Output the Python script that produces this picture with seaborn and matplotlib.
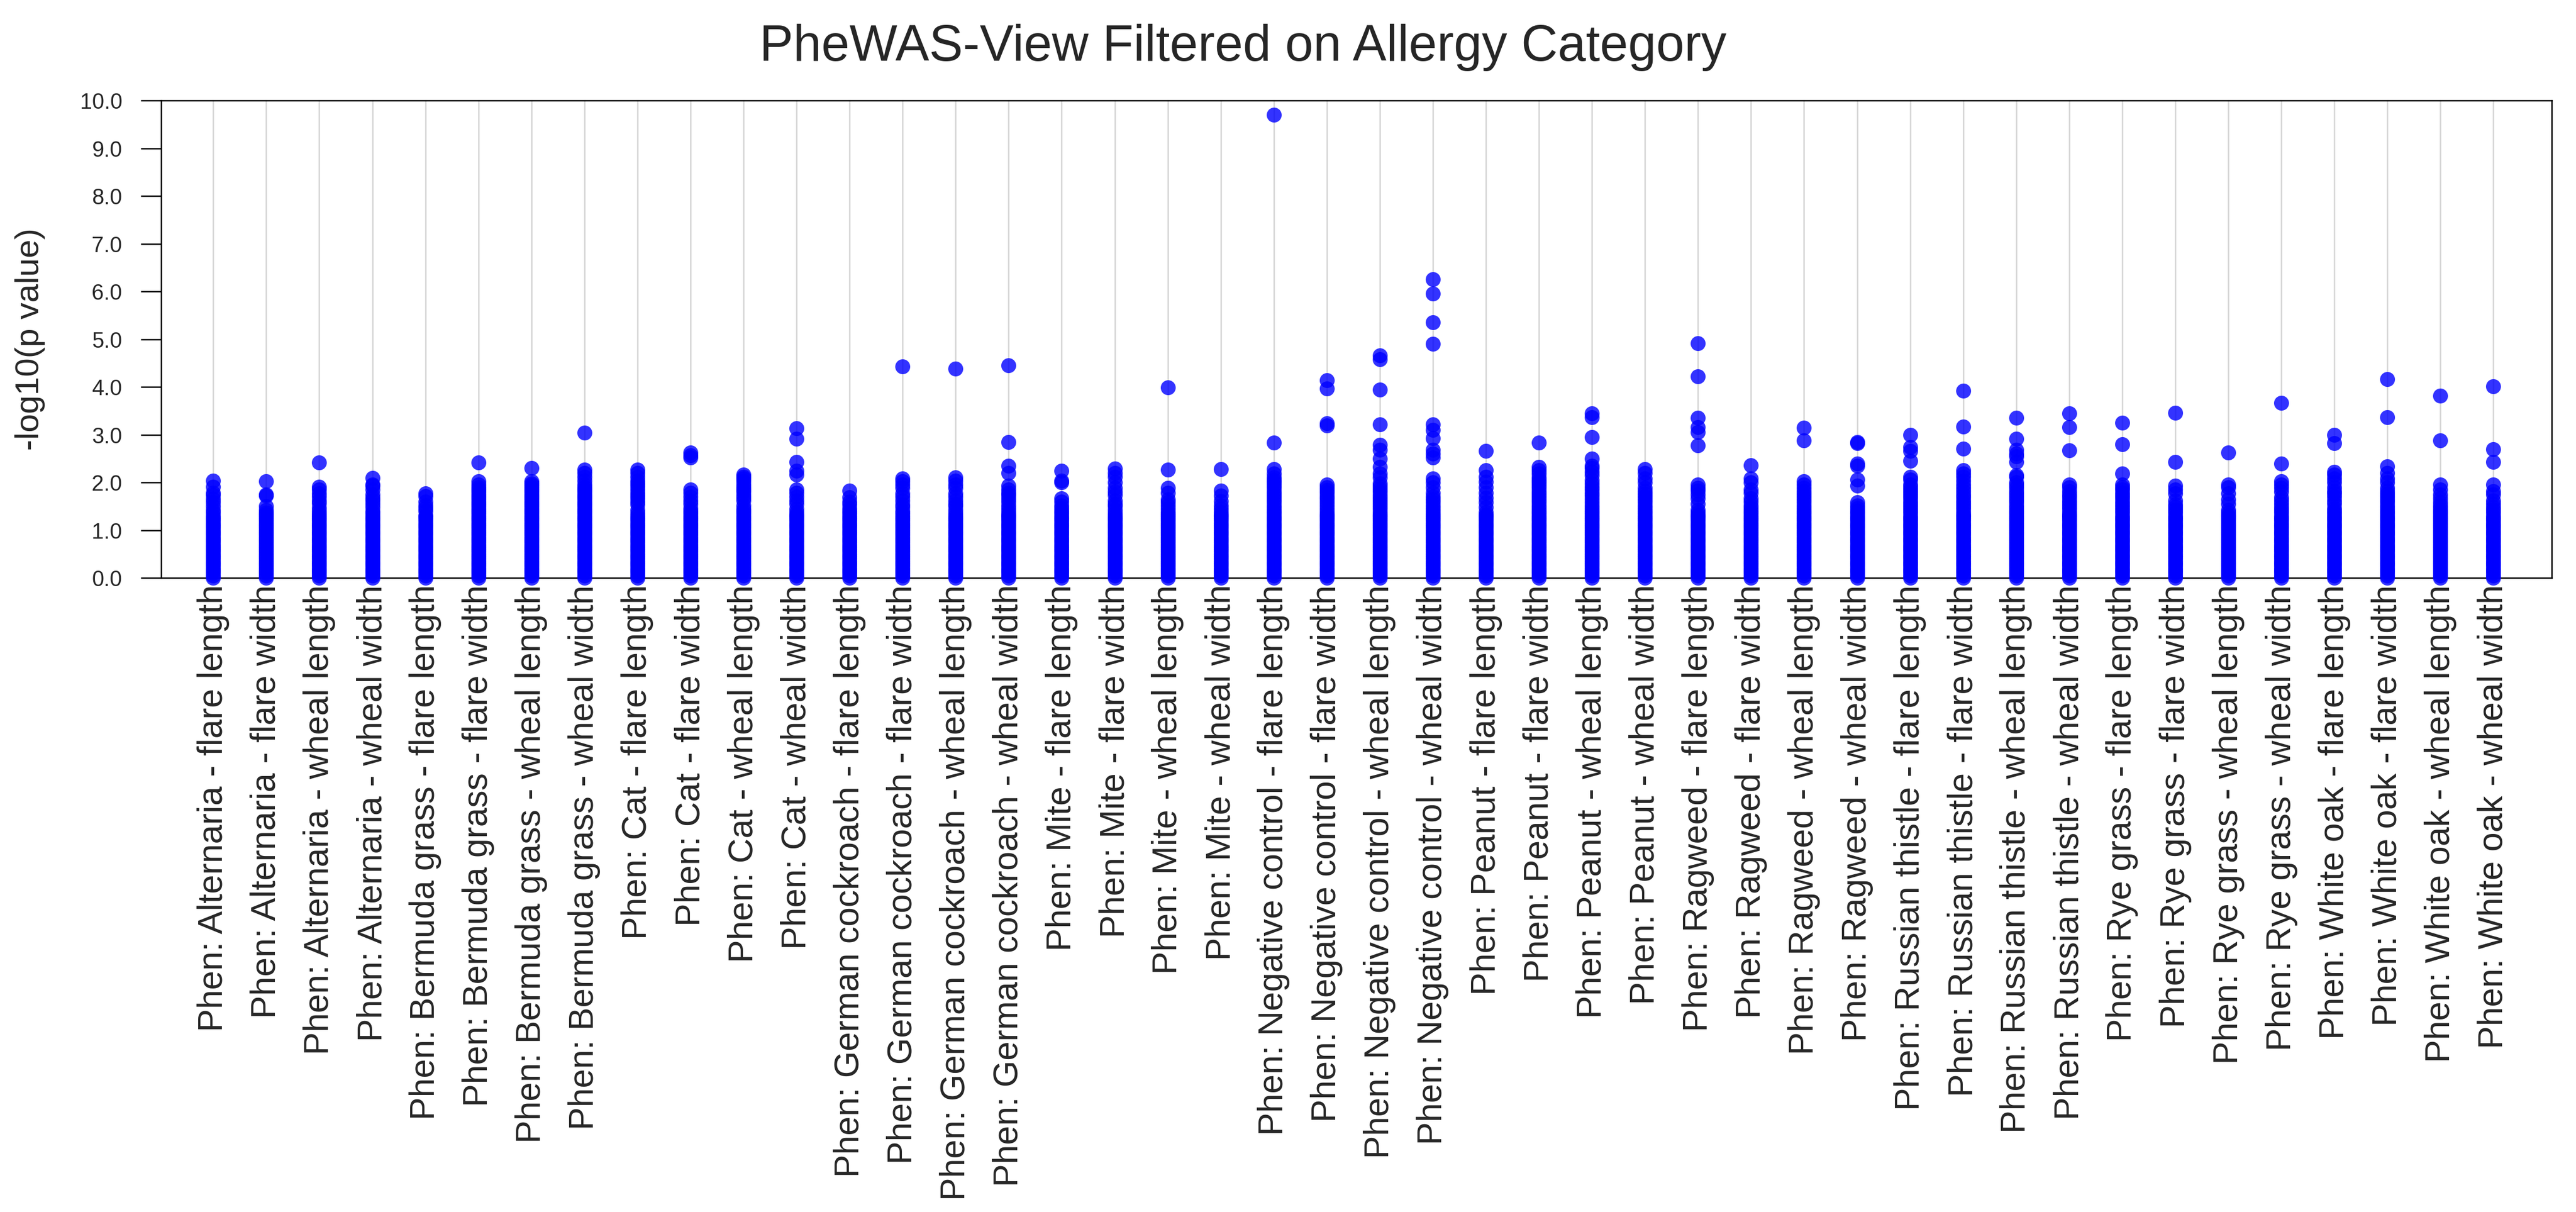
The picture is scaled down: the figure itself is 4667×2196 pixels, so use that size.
import numpy as np
import pandas as pd
import matplotlib
matplotlib.use("Agg")
import matplotlib.pyplot as plt
import seaborn as sns

# phenotype categories, in plot order
labels = [
    "Phen: Alternaria - flare length", "Phen: Alternaria - flare width",
    "Phen: Alternaria - wheal length", "Phen: Alternaria - wheal width",
    "Phen: Bermuda grass - flare length", "Phen: Bermuda grass - flare width",
    "Phen: Bermuda grass - wheal length", "Phen: Bermuda grass - wheal width",
    "Phen: Cat - flare length", "Phen: Cat - flare width",
    "Phen: Cat - wheal length", "Phen: Cat - wheal width",
    "Phen: German cockroach - flare length", "Phen: German cockroach - flare width",
    "Phen: German cockroach - wheal length", "Phen: German cockroach - wheal width",
    "Phen: Mite - flare length", "Phen: Mite - flare width",
    "Phen: Mite - wheal length", "Phen: Mite - wheal width",
    "Phen: Negative control - flare length", "Phen: Negative control - flare width",
    "Phen: Negative control - wheal length", "Phen: Negative control - wheal width",
    "Phen: Peanut - flare length", "Phen: Peanut - flare width",
    "Phen: Peanut - wheal length", "Phen: Peanut - wheal width",
    "Phen: Ragweed - flare length", "Phen: Ragweed - flare width",
    "Phen: Ragweed - wheal length", "Phen: Ragweed - wheal width",
    "Phen: Russian thistle - flare length", "Phen: Russian thistle - flare width",
    "Phen: Russian thistle - wheal length", "Phen: Russian thistle - wheal width",
    "Phen: Rye grass - flare length", "Phen: Rye grass - flare width",
    "Phen: Rye grass - wheal length", "Phen: Rye grass - wheal width",
    "Phen: White oak - flare length", "Phen: White oak - flare width",
    "Phen: White oak - wheal length", "Phen: White oak - wheal width",
]

# solid run of SNPs every phenotype has near zero (read as a filled bar)
dense_base = [0.0, 0.05, 0.1, 0.15, 0.2, 0.25, 0.3, 0.35, 0.4, 0.45, 0.5,
              0.55, 0.6, 0.65, 0.7, 0.75, 0.8, 0.85, 0.9, 0.95, 1.0, 1.05,
              1.1, 1.15, 1.2, 1.25, 1.3]

# upper points per phenotype, -log10(p)
upper_vals = [
    [2.03, 1.91, 1.78, 1.73, 1.65, 1.58, 1.5, 1.42, 1.36],
    [2.02, 1.75, 1.72, 1.5, 1.42, 1.37, 1.33],
    [2.42, 1.91, 1.85, 1.77, 1.7, 1.62, 1.56, 1.47, 1.40, 1.34],
    [2.09, 1.96, 1.93, 1.85, 1.75, 1.68, 1.62, 1.55, 1.48, 1.4, 1.35],
    [1.77, 1.71, 1.6, 1.52, 1.46, 1.40, 1.3],
    [2.42, 2.02, 1.96, 1.9, 1.85, 1.8, 1.75, 1.7, 1.65, 1.6, 1.55, 1.5, 1.45, 1.4, 1.35],
    [2.30, 2.02, 1.98, 1.94, 1.9, 1.85, 1.8, 1.75, 1.7, 1.65, 1.6, 1.55, 1.5, 1.45, 1.4, 1.35],
    [3.04, 2.27, 2.2, 2.12, 2.04, 1.96, 1.9, 1.85, 1.8, 1.75, 1.7, 1.65, 1.6, 1.55, 1.5, 1.45, 1.4, 1.35],
    [2.27, 2.2, 2.12, 2.04, 1.98, 1.92, 1.85, 1.78, 1.72, 1.66, 1.6, 1.54, 1.42, 1.35],
    [2.62, 2.57, 2.52, 1.85, 1.78, 1.7, 1.62, 1.55, 1.46, 1.4, 1.35],
    [2.16, 2.12, 2.08, 2.02, 1.96, 1.9, 1.85, 1.8, 1.74, 1.68, 1.62, 1.52, 1.45, 1.4, 1.35],
    [3.13, 2.91, 2.43, 2.24, 2.16, 1.85, 1.78, 1.7, 1.62, 1.55, 1.45, 1.38, 1.32],
    [1.83, 1.69, 1.6, 1.54, 1.46, 1.4, 1.35],
    [4.43, 2.08, 2.02, 1.96, 1.88, 1.77, 1.7, 1.62, 1.54, 1.48, 1.4, 1.35],
    [4.38, 2.10, 2.04, 1.96, 1.88, 1.77, 1.7, 1.62, 1.55, 1.5, 1.42, 1.35],
    [4.45, 2.85, 2.35, 2.2, 1.93, 1.85, 1.78, 1.73, 1.66, 1.6, 1.52, 1.45, 1.38, 1.32],
    [2.24, 2.04, 2.0, 1.67, 1.6, 1.52, 1.46, 1.4, 1.35],
    [2.29, 2.2, 2.12, 2.0, 1.89, 1.8, 1.73, 1.62, 1.55, 1.5, 1.42, 1.35],
    [3.99, 2.27, 1.88, 1.78, 1.64, 1.58, 1.51, 1.45, 1.38, 1.33],
    [2.28, 1.83, 1.72, 1.61, 1.52, 1.44, 1.38, 1.32],
    [9.70, 2.83, 2.28, 2.18, 2.1, 2.05, 2.0, 1.94, 1.88, 1.82, 1.76, 1.7, 1.64, 1.58, 1.52, 1.46, 1.4, 1.35],
    [4.14, 3.97, 3.24, 3.19, 1.95, 1.9, 1.84, 1.78, 1.71, 1.65, 1.58, 1.52, 1.45, 1.38, 1.32],
    [4.66, 4.58, 3.94, 3.21, 2.79, 2.68, 2.5, 2.32, 2.18, 2.1, 1.98,
     1.92, 1.86, 1.8, 1.74, 1.68, 1.62, 1.56, 1.5, 1.44, 1.38, 1.32],
    [6.25, 5.95, 5.35, 4.90, 3.22, 3.10, 2.93, 2.68, 2.6, 2.52, 2.08, 2.0, 1.9, 1.78, 1.7,
     1.64, 1.58, 1.52, 1.46, 1.4, 1.34],
    [2.66, 2.25, 2.12, 2.01, 1.9, 1.78, 1.68, 1.58, 1.48, 1.38, 1.32],
    [2.83, 2.33, 2.25, 2.18, 2.1, 2.05, 2.0, 1.94, 1.88, 1.82, 1.76, 1.7, 1.64, 1.58, 1.52, 1.46, 1.4, 1.35],
    [3.44, 3.36, 2.95, 2.50, 2.35, 2.3, 2.22, 2.15, 2.05, 1.98, 1.91, 1.85, 1.78, 1.72, 1.65,
     1.58, 1.52, 1.46, 1.4, 1.35],
    [2.28, 2.2, 2.08, 2.0, 1.89, 1.82, 1.76, 1.7, 1.64, 1.58, 1.52, 1.46, 1.4, 1.35],
    [4.91, 4.22, 3.35, 3.16, 3.05, 2.78, 1.95, 1.89, 1.83, 1.75, 1.67, 1.55, 1.42, 1.36, 1.31],
    [2.36, 2.08, 2.0, 1.85, 1.78, 1.67, 1.6, 1.52, 1.46, 1.4, 1.35],
    [3.14, 2.88, 2.02, 1.96, 1.89, 1.82, 1.76, 1.7, 1.64, 1.58, 1.52, 1.46, 1.4, 1.35],
    [2.85, 2.82, 2.39, 2.35, 2.06, 1.93, 1.58, 1.52, 1.46, 1.4, 1.35],
    [2.99, 2.74, 2.66, 2.45, 2.12, 2.06, 1.96, 1.9, 1.84, 1.78, 1.72, 1.66, 1.6, 1.54, 1.48, 1.42, 1.36],
    [3.92, 3.17, 2.71, 2.25, 2.18, 2.12, 2.04, 1.96, 1.88, 1.81, 1.75, 1.69, 1.62, 1.56, 1.5,
     1.44, 1.38, 1.32],
    [3.35, 2.91, 2.68, 2.60, 2.54, 2.43, 2.15, 2.12, 2.0, 1.94, 1.89, 1.82, 1.76, 1.7, 1.64,
     1.58, 1.52, 1.46, 1.4, 1.35],
    [3.44, 3.16, 2.67, 1.96, 1.9, 1.81, 1.75, 1.69, 1.62, 1.56, 1.5, 1.44, 1.38, 1.32],
    [3.25, 2.80, 2.18, 1.96, 1.9, 1.85, 1.78, 1.72, 1.66, 1.6, 1.54, 1.48, 1.42, 1.36],
    [3.46, 2.43, 1.93, 1.85, 1.77, 1.62, 1.54, 1.48, 1.42, 1.36],
    [2.62, 1.96, 1.9, 1.77, 1.64, 1.55, 1.42, 1.36, 1.31],
    [3.67, 2.39, 2.02, 1.95, 1.89, 1.8, 1.69, 1.62, 1.55, 1.48, 1.42, 1.36],
    [3.00, 2.82, 2.22, 2.16, 2.08, 2.0, 1.9, 1.82, 1.77, 1.7, 1.62, 1.55, 1.46, 1.4, 1.35],
    [4.16, 3.36, 2.34, 2.2, 2.08, 2.0, 1.89, 1.82, 1.76, 1.7, 1.64, 1.58, 1.52, 1.46, 1.4, 1.35],
    [3.81, 2.88, 1.95, 1.85, 1.75, 1.66, 1.58, 1.52, 1.46, 1.4, 1.35],
    [4.01, 2.69, 2.43, 1.95, 1.82, 1.75, 1.62, 1.55, 1.48, 1.42, 1.36],
]

y_ticks = [0, 1, 2, 3, 4, 5, 6, 7, 8, 9, 10]

rows = []
for lab, ups in zip(labels, upper_vals):
    for v in ups + dense_base:
        rows.append((lab, v))
df = pd.DataFrame(rows, columns=["phenotype", "neglogp"])

sns.set_theme(style="white")
plt.rcParams["font.family"] = ["Liberation Sans", "DejaVu Sans"]

fig = plt.figure(figsize=(4667 / 300, 2196 / 300), dpi=300)
ax = fig.add_axes([0.0626, 0.5232, 0.9280, 0.3939])

sns.stripplot(data=df, x="phenotype", y="neglogp", order=labels, jitter=False,
              color=(0, 0, 1), alpha=0.8, size=6.5, linewidth=0, ax=ax,
              clip_on=False, zorder=3)

ax.set_xlim(-0.98, len(labels) - 1 + 1.1)
ax.set_ylim(0, 10)
ax.set_yticks(y_ticks)
ax.set_yticklabels([f"{t:.1f}" for t in y_ticks])

ax.set_axisbelow(True)
ax.grid(axis="x", color="#d4d4d4", linewidth=0.6)
ax.grid(axis="y", visible=False)

for side in ["left", "right", "top", "bottom"]:
    ax.spines[side].set_visible(True)
    ax.spines[side].set_color("black")
    ax.spines[side].set_linewidth(0.6)

ax.tick_params(axis="y", which="both", left=True, length=9, width=0.6,
               direction="out", labelsize=9.5, pad=8, color="black")
ax.tick_params(axis="x", length=0, pad=3, labelsize=15, labelrotation=90)

ax.set_xlabel("")
ax.set_ylabel("-log10(p value)", fontsize=14.5, labelpad=15)

fig.text(0.4826, 0.95, "PheWAS-View Filtered on Allergy Category",
         ha="center", va="baseline", fontsize=22)

fig.savefig("out.png", dpi=300)
